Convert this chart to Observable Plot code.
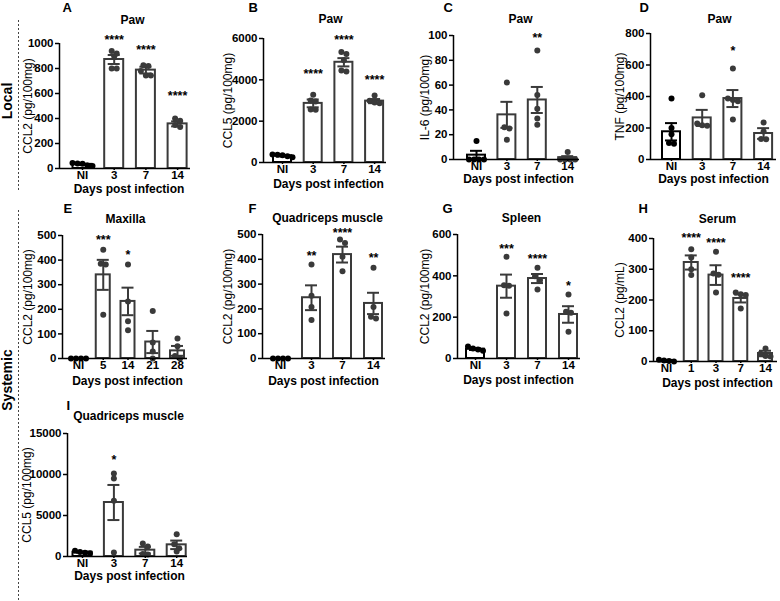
<!DOCTYPE html>
<html><head><meta charset="utf-8">
<script src="https://cdn.jsdelivr.net/npm/d3@7"></script>
<script src="https://cdn.jsdelivr.net/npm/@observablehq/plot@0.6"></script>
<style>
body{margin:0;background:#fff;}
#fig{position:relative;width:780px;height:601px;overflow:hidden;background:#fff;font-family:"Liberation Sans",Arial,sans-serif;}
#fig > svg{position:absolute;}
</style></head><body><div id="fig"></div>
<script>
// ---------------- DATA ----------------
const xLabel = "Days post infection";

const A_title = "Paw", A_ylabel = "CCL2 (pg/100mg)";
const A_cats = ["NI", "3", "7", "14"];
const A_means = [33, 872, 787, 357];
const A_sems = [5, 36, 27, 20];
const A_dots = [[20, 45, 40, 38, 25], [920, 898, 941, 800, 800], [821, 827, 781, 745, 745], [400, 382, 348, 333]];
const A_stars = ["", "****", "****", "****"];
const A_starY = [null, 1037, 960, 587];
const A_yTicks = [0, 200, 400, 600, 800, 1000];

const B_title = "Paw", B_ylabel = "CCL5 (pg/100mg)";
const B_cats = ["NI", "3", "7", "14"];
const B_means = [330, 2860, 4850, 2970];
const B_sems = [35, 190, 200, 100];
const B_dots = [[260, 390, 350, 380, 300], [3280, 3000, 2950, 2550, 2560], [5350, 5250, 4950, 4450, 4400], [3240, 2990, 2900, 2870]];
const B_stars = ["", "****", "****", "****"];
const B_starY = [null, 4318, 5971, 4045];
const B_yTicks = [0, 2000, 4000, 6000];

const C_title = "Paw", C_ylabel = "IL-6 (pg/100mg)";
const C_cats = ["NI", "3", "7", "14"];
const C_means = [3.5, 36, 48, 1.5];
const C_sems = [3.5, 10.5, 10.5, 1.2];
const C_dots = [[15, 0, 0, 0, 0], [62, 26, 25, 16], [88, 52, 41, 33, 28], [6, 0, 0, 0, 0]];
const C_stars = ["", "", "**", ""];
const C_starY = [null, null, 99, null];
const C_yTicks = [0, 20, 40, 60, 80, 100];

const D_title = "Paw", D_ylabel = "TNF (pg/100mg)";
const D_cats = ["NI", "3", "7", "14"];
const D_means = [176, 264, 387, 165];
const D_sems = [55, 51, 54, 34];
const D_dots = [[387, 200, 160, 105, 100], [408, 228, 218, 214], [578, 387, 378, 370, 254], [235, 178, 130, 128]];
const D_stars = ["", "", "*", ""];
const D_starY = [null, null, 694, null];
const D_yTicks = [0, 200, 400, 600, 800];

const E_title = "Maxilla", E_ylabel = "CCL2 (pg/100mg)";
const E_cats = ["NI", "5", "14", "21", "28"];
const E_means = [0, 340, 232, 67, 31];
const E_sems = [0, 61, 56, 45, 20];
const E_dots = [[0, 0, 0, 0], [442, 385, 382, 178], [382, 232, 151, 115], [193, 65, 28, 0], [81, 50, 10, 0]];
const E_stars = ["", "***", "*", "", ""];
const E_starY = [null, 484, 426, null, null];
const E_yTicks = [0, 100, 200, 300, 400, 500];

const F_title = "Quadriceps muscle", F_ylabel = "CCL2 (pg/100mg)";
const F_cats = ["NI", "3", "7", "14"];
const F_means = [0, 245, 419, 222];
const F_sems = [0, 50, 32, 43];
const F_dots = [[0, 0, 0, 0], [379, 253, 208, 155], [480, 466, 410, 352], [366, 208, 161, 168]];
const F_stars = ["", "**", "****", "**"];
const F_starY = [null, 419, 512, 410];
const F_yTicks = [0, 100, 200, 300, 400, 500];

const G_title = "Spleen", G_ylabel = "CCL2 (pg/100mg)";
const G_cats = ["NI", "3", "7", "14"];
const G_means = [45, 350, 387, 213];
const G_sems = [4, 56, 22, 40];
const G_dots = [[58, 48, 44, 38], [492, 352, 355, 218], [439, 398, 379, 334], [310, 221, 226, 129]];
const G_stars = ["", "***", "****", "*"];
const G_starY = [null, 535, 484, 358];
const G_yTicks = [0, 200, 400, 600];

const H_title = "Serum", H_ylabel = "CCL2 (pg/mL)";
const H_cats = ["NI", "1", "3", "7", "14"];
const H_means = [3, 322, 281, 205, 26];
const H_sems = [2, 23, 32, 13, 9];
const H_dots = [[6, 3, 2, 0], [365, 338, 300, 281], [357, 282, 286, 224], [224, 219, 216, 172], [42, 25, 18, 16]];
const H_stars = ["", "****", "****", "****", ""];
const H_starY = [null, 406, 389, 275, null];
const H_yTicks = [0, 100, 200, 300, 400];

const I_title = "Quadriceps muscle", I_ylabel = "CCL5 (pg/100mg)";
const I_cats = ["NI", "3", "7", "14"];
const I_means = [520, 6585, 772, 1423];
const I_sems = [60, 2140, 400, 520];
const I_dots = [[700, 560, 450, 400], [10120, 9510, 6790, 490], [1590, 1220, 300, 250], [2700, 1500, 1000, 600]];
const I_stars = ["", "*", "", ""];
const I_starY = [null, 11870, null, null];
const I_yTicks = [0, 5000, 10000, 15000];

const groupLabels = ["Local", "Systemic"];

// ---------------- LAYOUT (pixels) ----------------
const panels = [
  {letter: "A", title: A_title, ylabel: A_ylabel, cats: A_cats, means: A_means, sems: A_sems, dots: A_dots, stars: A_stars, starY: A_starY, ticks: A_yTicks,
   L: {box: [20, 0, 175, 195], axisX: 59, rightX: 190, y0: 168, yTop: 43, c0: 82, step: 31.7, barW: 21, letter: [62, 6], title: [132, 18], ylab: 28, xlab: [128.5, 183]}},
  {letter: "B", title: B_title, ylabel: B_ylabel, cats: B_cats, means: B_means, sems: B_sems, dots: B_dots, stars: B_stars, starY: B_starY, ticks: B_yTicks,
   L: {box: [195, 0, 195, 195], axisX: 263, rightX: 386, y0: 162, yTop: 38, c0: 282, step: 30.7, barW: 20, letter: [248, 6], title: [330, 17], ylab: 228, xlab: [328, 178]}},
  {letter: "C", title: C_title, ylabel: C_ylabel, cats: C_cats, means: C_means, sems: C_sems, dots: C_dots, stars: C_stars, starY: C_starY, ticks: C_yTicks,
   L: {box: [390, 0, 195, 195], axisX: 453, rightX: 579, y0: 159, yTop: 35, c0: 476, step: 30.4, barW: 20, letter: [443, 6], title: [520, 17], ylab: 425, xlab: [518, 173]}},
  {letter: "D", title: D_title, ylabel: D_ylabel, cats: D_cats, means: D_means, sems: D_sems, dots: D_dots, stars: D_stars, starY: D_starY, ticks: D_yTicks,
   L: {box: [585, 0, 195, 195], axisX: 650, rightX: 776, y0: 159, yTop: 33, c0: 671, step: 30.7, barW: 20, letter: [639, 6], title: [719, 17], ylab: 620, xlab: [713, 173]}},
  {letter: "E", title: E_title, ylabel: E_ylabel, cats: E_cats, means: E_means, sems: E_sems, dots: E_dots, stars: E_stars, starY: E_starY, ticks: E_yTicks,
   L: {box: [20, 198, 175, 195], axisX: 62, rightX: 187, y0: 358, yTop: 235, c0: 78, step: 24.75, barW: 16, letter: [63, 207], title: [125, 217], ylab: 28, xlab: [127, 375]}},
  {letter: "F", title: F_title, ylabel: F_ylabel, cats: F_cats, means: F_means, sems: F_sems, dots: F_dots, stars: F_stars, starY: F_starY, ticks: F_yTicks,
   L: {box: [195, 198, 195, 195], axisX: 262, rightX: 385, y0: 358, yTop: 234, c0: 280, step: 31, barW: 20, letter: [248, 207], title: [327, 216], ylab: 228, xlab: [323, 375]}},
  {letter: "G", title: G_title, ylabel: G_ylabel, cats: G_cats, means: G_means, sems: G_sems, dots: G_dots, stars: G_stars, starY: G_starY, ticks: G_yTicks,
   L: {box: [390, 198, 195, 195], axisX: 457, rightX: 580, y0: 358, yTop: 234, c0: 475, step: 31, barW: 20, letter: [442, 207], title: [521, 216], ylab: 425, xlab: [518, 374]}},
  {letter: "H", title: H_title, ylabel: H_ylabel, cats: H_cats, means: H_means, sems: H_sems, dots: H_dots, stars: H_stars, starY: H_starY, ticks: H_yTicks,
   L: {box: [585, 198, 195, 195], axisX: 653, rightX: 777, y0: 361, yTop: 238, c0: 666, step: 24.75, barW: 16, letter: [638, 207], title: [717, 217], ylab: 620, xlab: [717, 377]}},
  {letter: "I", title: I_title, ylabel: I_ylabel, cats: I_cats, means: I_means, sems: I_sems, dots: I_dots, stars: I_stars, starY: I_starY, ticks: I_yTicks,
   L: {box: [20, 395, 175, 195], axisX: 67, rightX: 187, y0: 556, yTop: 433, c0: 82, step: 31.4, barW: 21, letter: [66, 404], title: [128, 414], ylab: 27, xlab: [129, 570]}}
];

const FONT = "Liberation Sans, Arial, sans-serif";
const capW = 12, dotR = 3, rowThresh = 5, dotSpacing = 5;
const colNI = "#000", colOther = "#3a3a3a";
const fig = document.getElementById("fig");

function drawPanel(p) {
  const L = p.L;
  const [left, top, W, H] = L.box;
  const n = p.cats.length;
  const idx = d3.range(n);
  const ymax = p.ticks[p.ticks.length - 1];
  const xMin = (L.axisX - L.c0) / L.step, xMax = (L.rightX - L.c0) / L.step;
  const ppu = (L.y0 - L.yTop) / ymax;
  const hw = (L.barW - 2) / 2 / L.step, cw = capW / 2 / L.step;
  const col = i => (i === 0 ? colNI : colOther);

  // column scatter: rows of near-equal values are spread horizontally
  const pts = [];
  p.dots.forEach((vals, i) => {
    const s = [...vals].sort((a, b) => b - a);
    const rows = [];
    s.forEach(v => {
      const r = rows[rows.length - 1];
      if (r && (r[0] - v) * ppu < rowThresh) r.push(v); else rows.push([v]);
    });
    rows.forEach(r => r.forEach((v, j) => pts.push({i, v, off: (j - (r.length - 1) / 2) * dotSpacing / L.step})));
  });

  const err = idx.map(i => ({i, lo: Math.max(0, p.means[i] - p.sems[i]), hi: p.means[i] + p.sems[i]})).filter(d => d.hi > d.lo);
  const caps = [];
  err.forEach(d => { caps.push({i: d.i, v: d.hi}); if (d.lo > 0) caps.push({i: d.i, v: d.lo}); });
  const stars = idx.filter(i => p.stars[i]).map(i => ({i, v: p.starY[i], t: p.stars[i]}));

  const plot = Plot.plot({
    width: W, height: H,
    marginLeft: L.axisX - left, marginRight: left + W - L.rightX,
    marginTop: L.yTop - top, marginBottom: top + H - L.y0,
    x: {type: "linear", domain: [xMin, xMax], axis: null},
    y: {domain: [0, ymax], axis: null},
    style: {background: "transparent", overflow: "visible", fontFamily: FONT, color: "#000"},
    marks: [
      Plot.rectY(idx.filter(i => p.means[i] > 0), {x1: i => i - hw, x2: i => i + hw, y1: 0, y2: i => p.means[i], fill: "white", stroke: col, strokeWidth: 2}),
      Plot.ruleX(err, {x: "i", y1: "lo", y2: "hi", stroke: d => col(d.i), strokeWidth: 2}),
      Plot.ruleY(caps, {y: "v", x1: d => d.i - cw, x2: d => d.i + cw, stroke: d => col(d.i), strokeWidth: 2}),
      Plot.dot(pts, {x: d => d.i + d.off, y: "v", r: dotR, fill: d => col(d.i), stroke: "none"}),
      Plot.ruleX([xMin], {y1: 0, y2: ymax, stroke: "#000", strokeWidth: 1.5}),
      Plot.ruleY([0], {stroke: "#000", strokeWidth: 1.5}),
      Plot.axisY({ticks: p.ticks, tickFormat: d => String(d), tickSize: 4, tickPadding: 2, fontSize: 11.5, fontWeight: "bold", label: null, strokeWidth: 1.5}),
      Plot.axisX({ticks: idx, tickFormat: i => p.cats[i], tickSize: 2, tickPadding: 0, fontSize: 11.5, fontWeight: "bold", label: null, strokeWidth: 1.5}),
      Plot.text(stars, {x: "i", y: "v", text: "t", fontSize: 12.5, fontWeight: "bold", dy: 1}),
      Plot.text([p.letter], {text: d => d, frameAnchor: "top-left", dx: L.letter[0] - L.axisX, dy: L.letter[1] - L.yTop - 4, textAnchor: "start", fontSize: 13, fontWeight: "bold"}),
      Plot.text([p.title], {text: d => d, frameAnchor: "top-left", dx: L.title[0] - L.axisX, dy: L.title[1] - L.yTop - 3, textAnchor: "middle", fontSize: 12, fontWeight: "bold"}),
      Plot.text([p.ylabel], {text: d => d, frameAnchor: "left", dx: L.ylab - L.axisX, rotate: -90, textAnchor: "middle", fontSize: 12}),
      Plot.text([xLabel], {text: d => d, frameAnchor: "bottom-left", dx: L.xlab[0] - L.axisX, dy: L.xlab[1] - L.y0 + 1, lineAnchor: "top", textAnchor: "middle", fontSize: 12, fontWeight: "bold"})
    ]
  });
  plot.style.left = left + "px";
  plot.style.top = top + "px";
  fig.appendChild(plot);
}

panels.forEach(drawPanel);

// group labels and dotted separators
const deco = d3.create("svg").attr("width", 780).attr("height", 601)
  .style("position", "absolute").style("left", "0px").style("top", "0px").style("overflow", "visible");
deco.append("line").attr("x1", 18.5).attr("x2", 18.5).attr("y1", 20).attr("y2", 191)
  .attr("stroke", "#444").attr("stroke-width", 1).attr("stroke-dasharray", "2,2");
deco.append("line").attr("x1", 18.5).attr("x2", 18.5).attr("y1", 210).attr("y2", 601)
  .attr("stroke", "#444").attr("stroke-width", 1).attr("stroke-dasharray", "2,2");
[[groupLabels[0], 101], [groupLabels[1], 380]].forEach(([t, y]) => {
  deco.append("text").attr("transform", `translate(12,${y}) rotate(-90)`)
    .attr("text-anchor", "middle").attr("font-family", FONT).attr("font-weight", "bold")
    .attr("font-size", 14).text(t);
});
fig.appendChild(deco.node());
</script>
</body></html>
